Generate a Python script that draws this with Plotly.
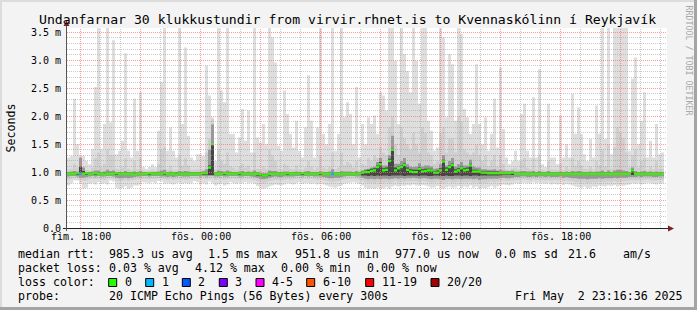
import math
import pandas as pd
import plotly.graph_objects as go

# ---------------- data (milliseconds) ----------------
START = pd.Timestamp("2025-05-01 17:19:30")
STEP = pd.Timedelta(minutes=9)
SPAN = pd.Timedelta(hours=30)
Y_TOP = 3.577

MAX_MS = [
    1.26, 1.29, 2.31, 1.50, 1.29, 1.29, 1.20, 1.14, 1.41, 2.52,
    4.00, 1.41, 1.86, 4.00, 1.89, 3.36, 1.32, 1.38, 1.56, 3.12,
    1.38, 1.26, 2.31, 1.38, 2.43, 1.09, 1.06, 1.09, 1.14, 1.09,
    1.74, 2.61, 4.00, 1.38, 1.80, 1.38, 1.26, 4.00, 1.86, 3.23,
    1.65, 1.26, 1.20, 1.32, 1.32, 1.29, 2.90, 2.37, 1.98, 1.20,
    4.00, 2.46, 2.25, 4.00, 1.68, 1.68, 1.35, 1.62, 2.13, 1.56,
    2.10, 1.35, 4.00, 1.62, 1.53, 1.86, 1.50, 4.00, 3.41, 2.96,
    1.47, 1.38, 2.46, 2.04, 1.68, 1.44, 1.92, 1.38, 1.26, 1.80,
    2.73, 1.92, 1.26, 1.80, 4.00, 1.68, 1.50, 1.86, 4.00, 1.38,
    1.68, 4.00, 1.98, 2.25, 2.04, 1.50, 2.52, 1.26, 1.86, 1.50,
    1.98, 1.86, 2.01, 1.68, 2.43, 2.37, 2.10, 4.00, 4.00, 2.99,
    1.86, 4.00, 3.11, 2.81, 2.43, 4.00, 2.99, 2.22, 4.00, 4.00,
    1.92, 1.74, 1.38, 1.44, 4.00, 3.41, 1.98, 3.11, 2.93, 1.92,
    4.00, 3.47, 2.13, 1.98, 1.68, 1.86, 2.93, 1.86, 1.50, 1.98,
    1.38, 1.68, 2.31, 1.44, 2.87, 1.77, 1.26, 1.14, 1.20, 1.38,
    1.20, 2.04, 2.22, 1.38, 1.26, 2.34, 1.26, 2.84, 1.14, 1.09,
    2.22, 1.26, 1.26, 1.14, 2.01, 1.26, 1.50, 1.26, 2.40, 1.68,
    2.16, 1.68, 1.32, 1.20, 1.59, 1.26, 2.19, 1.68, 4.00, 1.59,
    4.00, 1.32, 4.00, 4.00, 4.00, 4.00, 4.00, 1.38, 2.67, 3.05,
    1.50, 1.92, 2.43, 1.26, 1.56, 1.26, 1.86, 1.32, 1.35,
]
MIN_MS = [
    0.76, 0.80, 0.85, 0.85, 0.80, 0.70, 0.72, 0.79, 0.80, 0.78,
    0.82, 0.79, 0.80, 0.78, 0.85, 0.83, 0.72, 0.70, 0.71, 0.74,
    0.70, 0.72, 0.76, 0.76, 0.78, 0.82, 0.81, 0.80, 0.82, 0.80,
    0.84, 0.83, 0.79, 0.80, 0.79, 0.78, 0.80, 0.81, 0.79, 0.80,
    0.79, 0.80, 0.84, 0.82, 0.78, 0.80, 0.78, 0.83, 0.80, 0.76,
    0.78, 0.80, 0.76, 0.78, 0.82, 0.80, 0.79, 0.81, 0.80, 0.82,
    0.80, 0.81, 0.79, 0.75, 0.72, 0.70, 0.72, 0.74, 0.76, 0.78,
    0.77, 0.76, 0.78, 0.80, 0.79, 0.78, 0.80, 0.82, 0.79, 0.80,
    0.80, 0.79, 0.80, 0.78, 0.80, 0.78, 0.76, 0.74, 0.73, 0.72,
    0.74, 0.76, 0.79, 0.80, 0.81, 0.82, 0.80, 0.79, 0.76, 0.72,
    0.70, 0.71, 0.70, 0.72, 0.70, 0.71, 0.73, 0.70, 0.74, 0.76,
    0.74, 0.76, 0.75, 0.77, 0.76, 0.78, 0.76, 0.75, 0.77, 0.76,
    0.74, 0.72, 0.73, 0.75, 0.72, 0.70, 0.73, 0.74, 0.72, 0.73,
    0.75, 0.72, 0.74, 0.73, 0.76, 0.72, 0.74, 0.70, 0.72, 0.71,
    0.73, 0.75, 0.72, 0.74, 0.76, 0.78, 0.77, 0.76, 0.78, 0.80,
    0.79, 0.80, 0.81, 0.80, 0.79, 0.82, 0.80, 0.81, 0.80, 0.79,
    0.80, 0.78, 0.79, 0.78, 0.80, 0.77, 0.79, 0.78, 0.76, 0.74,
    0.73, 0.72, 0.74, 0.71, 0.72, 0.74, 0.73, 0.76, 0.75, 0.74,
    0.76, 0.75, 0.77, 0.74, 0.76, 0.75, 0.77, 0.78, 0.80, 0.79,
    0.80, 0.78, 0.79, 0.81, 0.80, 0.79, 0.78, 0.80, 0.80,
]
HI2_MS = [
    1.05, 1.06, 1.15, 1.08, 1.28, 1.10, 1.04, 1.03, 1.08, 1.25,
    1.35, 1.08, 1.15, 1.40, 1.30, 1.30, 1.06, 1.05, 1.08, 1.25,
    1.06, 1.04, 1.20, 1.05, 1.25, 1.03, 1.02, 1.03, 1.04, 1.03,
    1.15, 1.40, 1.45, 1.05, 1.12, 1.04, 1.04, 1.30, 1.12, 1.25,
    1.12, 1.04, 1.04, 1.05, 1.05, 1.05, 1.35, 1.60, 1.95, 1.05,
    1.40, 1.20, 1.15, 1.35, 1.10, 1.08, 1.05, 1.10, 1.15, 1.08,
    1.12, 1.04, 1.35, 1.06, 1.05, 1.10, 1.06, 1.40, 1.30, 1.20,
    1.06, 1.05, 1.15, 1.12, 1.06, 1.05, 1.12, 1.05, 1.04, 1.08,
    1.20, 1.10, 1.04, 1.08, 1.30, 1.08, 1.05, 1.10, 1.35, 1.05,
    1.08, 1.35, 1.12, 1.18, 1.15, 1.08, 1.20, 1.04, 1.15, 1.12,
    1.25, 1.20, 1.30, 1.25, 1.45, 1.35, 1.30, 1.80, 2.00, 1.50,
    1.30, 1.80, 1.60, 1.50, 1.40, 1.70, 1.50, 1.35, 1.80, 1.70,
    1.35, 1.30, 1.15, 1.20, 1.70, 1.80, 1.35, 1.60, 1.60, 1.35,
    2.00, 1.90, 1.40, 1.35, 1.30, 1.35, 1.50, 1.30, 1.20, 1.30,
    1.10, 1.20, 1.30, 1.10, 1.30, 1.15, 1.05, 1.04, 1.06, 1.08,
    1.05, 1.20, 1.25, 1.08, 1.05, 1.25, 1.04, 1.30, 1.04, 1.03,
    1.20, 1.05, 1.04, 1.04, 1.15, 1.04, 1.10, 1.05, 1.25, 1.12,
    1.20, 1.12, 1.06, 1.05, 1.10, 1.04, 1.20, 1.12, 1.40, 1.10,
    1.50, 1.06, 1.45, 1.80, 1.70, 1.60, 1.35, 1.08, 1.30, 1.40,
    1.08, 1.20, 1.25, 1.04, 1.10, 1.05, 1.20, 1.06, 1.06,
]
LO2_MS = [
    0.86, 0.88, 0.90, 0.89, 0.86, 0.84, 0.85, 0.87, 0.88, 0.87,
    0.88, 0.87, 0.86, 0.88, 0.89, 0.88, 0.84, 0.83, 0.84, 0.85,
    0.84, 0.85, 0.86, 0.87, 0.87, 0.88, 0.88, 0.87, 0.88, 0.88,
    0.89, 0.88, 0.87, 0.86, 0.87, 0.86, 0.87, 0.88, 0.87, 0.86,
    0.87, 0.88, 0.89, 0.88, 0.87, 0.88, 0.87, 0.88, 0.89, 0.86,
    0.87, 0.88, 0.86, 0.87, 0.88, 0.89, 0.88, 0.88, 0.87, 0.88,
    0.88, 0.87, 0.86, 0.84, 0.82, 0.80, 0.82, 0.84, 0.85, 0.86,
    0.86, 0.85, 0.86, 0.87, 0.86, 0.87, 0.88, 0.88, 0.87, 0.88,
    0.87, 0.88, 0.87, 0.86, 0.87, 0.86, 0.84, 0.83, 0.82, 0.83,
    0.84, 0.86, 0.87, 0.88, 0.88, 0.88, 0.87, 0.86, 0.84, 0.82,
    0.80, 0.81, 0.80, 0.82, 0.80, 0.81, 0.82, 0.80, 0.82, 0.84,
    0.82, 0.83, 0.82, 0.84, 0.83, 0.84, 0.83, 0.82, 0.84, 0.83,
    0.82, 0.81, 0.82, 0.83, 0.81, 0.80, 0.82, 0.83, 0.81, 0.82,
    0.83, 0.81, 0.82, 0.82, 0.83, 0.81, 0.82, 0.80, 0.81, 0.80,
    0.82, 0.83, 0.82, 0.83, 0.84, 0.85, 0.84, 0.84, 0.85, 0.86,
    0.86, 0.87, 0.87, 0.86, 0.85, 0.87, 0.86, 0.87, 0.86, 0.85,
    0.86, 0.85, 0.86, 0.85, 0.86, 0.84, 0.85, 0.84, 0.83, 0.82,
    0.82, 0.81, 0.82, 0.80, 0.81, 0.82, 0.81, 0.83, 0.82, 0.82,
    0.83, 0.82, 0.84, 0.82, 0.83, 0.83, 0.84, 0.85, 0.86, 0.85,
    0.86, 0.85, 0.86, 0.87, 0.86, 0.85, 0.85, 0.86, 0.86,
]
HI3_MS = [
    1.00, 1.01, 1.02, 1.01, 1.25, 1.08, 1.00, 1.00, 1.01, 1.03,
    1.03, 1.00, 1.01, 1.04, 1.02, 1.03, 1.00, 1.00, 1.00, 1.02,
    1.00, 1.00, 1.01, 1.00, 1.02, 1.00, 0.99, 1.00, 1.00, 1.00,
    1.01, 1.03, 1.04, 1.00, 1.01, 1.00, 1.00, 1.02, 1.01, 1.02,
    1.01, 1.00, 1.00, 1.00, 1.00, 1.02, 1.05, 1.40, 1.85, 1.00,
    1.03, 1.02, 1.01, 1.03, 1.01, 1.00, 1.00, 1.01, 1.02, 1.00,
    1.01, 1.00, 1.03, 1.00, 0.99, 0.98, 0.98, 1.03, 1.02, 1.02,
    1.00, 1.00, 1.01, 1.01, 1.00, 1.00, 1.01, 1.00, 1.00, 1.01,
    1.02, 1.00, 1.00, 1.00, 1.02, 1.00, 1.00, 1.01, 1.05, 1.00,
    1.00, 1.02, 1.01, 1.01, 1.01, 1.00, 1.02, 1.00, 1.03, 1.05,
    1.06, 1.08, 1.10, 1.18, 1.25, 1.12, 1.12, 1.30, 1.65, 1.15,
    1.15, 1.20, 1.25, 1.14, 1.10, 1.09, 1.10, 1.16, 1.10, 1.12,
    1.12, 1.10, 1.06, 1.07, 1.14, 1.30, 1.12, 1.20, 1.25, 1.10,
    1.14, 1.18, 1.12, 1.12, 1.22, 1.10, 1.08, 1.08, 1.05, 1.05,
    1.04, 1.04, 1.05, 1.03, 1.04, 1.03, 1.02, 1.02, 1.03, 1.01,
    1.01, 1.02, 1.02, 1.01, 1.01, 1.02, 1.00, 1.02, 1.00, 1.00,
    1.02, 1.00, 1.00, 1.00, 1.01, 1.00, 1.01, 1.00, 1.02, 1.01,
    1.02, 1.01, 1.00, 1.00, 1.01, 1.00, 1.01, 1.01, 1.03, 1.00,
    1.03, 1.00, 1.03, 1.04, 1.04, 1.03, 1.02, 1.00, 1.08, 1.02,
    1.00, 1.01, 1.02, 1.00, 1.01, 1.00, 1.01, 1.00, 1.00,
]
LO3_MS = [
    0.92, 0.93, 0.93, 0.92, 0.90, 0.90, 0.91, 0.92, 0.93, 0.92,
    0.93, 0.92, 0.92, 0.93, 0.93, 0.92, 0.90, 0.89, 0.89, 0.90,
    0.89, 0.90, 0.91, 0.92, 0.92, 0.93, 0.93, 0.92, 0.93, 0.93,
    0.93, 0.92, 0.92, 0.91, 0.92, 0.91, 0.92, 0.93, 0.92, 0.92,
    0.92, 0.93, 0.93, 0.93, 0.92, 0.93, 0.92, 0.93, 0.93, 0.92,
    0.92, 0.93, 0.92, 0.92, 0.93, 0.93, 0.93, 0.92, 0.92, 0.93,
    0.93, 0.92, 0.91, 0.90, 0.88, 0.87, 0.88, 0.90, 0.91, 0.92,
    0.91, 0.91, 0.92, 0.92, 0.92, 0.92, 0.93, 0.93, 0.92, 0.93,
    0.92, 0.93, 0.92, 0.92, 0.92, 0.91, 0.90, 0.89, 0.89, 0.90,
    0.90, 0.91, 0.92, 0.93, 0.93, 0.93, 0.92, 0.92, 0.90, 0.88,
    0.87, 0.88, 0.87, 0.88, 0.87, 0.88, 0.88, 0.87, 0.88, 0.89,
    0.88, 0.89, 0.88, 0.89, 0.89, 0.90, 0.89, 0.88, 0.89, 0.89,
    0.88, 0.87, 0.88, 0.88, 0.87, 0.86, 0.88, 0.88, 0.87, 0.88,
    0.88, 0.87, 0.88, 0.88, 0.88, 0.87, 0.88, 0.86, 0.87, 0.87,
    0.88, 0.88, 0.88, 0.88, 0.89, 0.90, 0.89, 0.89, 0.90, 0.91,
    0.91, 0.92, 0.92, 0.91, 0.91, 0.92, 0.91, 0.92, 0.92, 0.91,
    0.92, 0.91, 0.91, 0.91, 0.92, 0.90, 0.91, 0.90, 0.89, 0.89,
    0.88, 0.88, 0.88, 0.87, 0.88, 0.88, 0.88, 0.89, 0.88, 0.89,
    0.89, 0.89, 0.90, 0.89, 0.90, 0.90, 0.90, 0.91, 0.91, 0.91,
    0.92, 0.91, 0.92, 0.92, 0.92, 0.91, 0.91, 0.92, 0.92,
]
HI4_MS = [
    0.99, 0.99, 0.99, 0.99, 1.10, 1.02, 0.99, 0.99, 0.99, 0.99,
    0.99, 0.99, 0.99, 0.99, 0.99, 0.99, 0.99, 0.99, 0.99, 0.99,
    0.99, 0.99, 0.99, 0.99, 0.99, 0.99, 0.99, 0.99, 0.99, 0.99,
    0.99, 0.99, 0.99, 0.99, 0.99, 0.99, 0.99, 0.99, 0.99, 0.99,
    0.99, 0.99, 0.99, 0.99, 0.99, 0.99, 0.99, 1.12, 1.52, 0.99,
    0.99, 0.99, 0.99, 0.99, 0.99, 0.99, 0.99, 0.99, 0.99, 0.99,
    0.99, 0.99, 0.99, 0.99, 0.98, 0.96, 0.96, 0.99, 0.99, 0.99,
    0.99, 0.99, 0.99, 0.99, 0.99, 0.99, 0.99, 0.99, 0.99, 0.99,
    0.99, 0.99, 0.99, 0.99, 0.99, 0.99, 0.99, 0.99, 0.99, 0.99,
    0.99, 0.99, 0.99, 0.99, 0.99, 0.99, 0.99, 0.99, 1.01, 1.03,
    1.04, 1.06, 1.07, 1.12, 1.18, 1.07, 1.08, 1.24, 1.42, 1.08,
    1.10, 1.12, 1.16, 1.08, 1.05, 1.04, 1.04, 1.09, 1.05, 1.06,
    1.06, 1.06, 1.02, 1.03, 1.07, 1.22, 1.08, 1.12, 1.16, 1.05,
    1.07, 1.10, 1.07, 1.08, 1.15, 1.04, 1.04, 1.03, 1.02, 1.02,
    1.01, 1.01, 1.01, 1.01, 1.00, 1.00, 0.99, 0.99, 0.99, 0.99,
    0.99, 0.99, 0.99, 0.99, 0.99, 0.99, 0.99, 0.99, 0.99, 0.99,
    0.99, 0.99, 0.99, 0.99, 0.99, 0.99, 0.99, 0.99, 0.99, 0.99,
    0.99, 0.99, 0.99, 0.99, 0.99, 0.99, 0.99, 0.99, 0.99, 0.99,
    0.99, 0.99, 0.99, 0.99, 0.99, 0.99, 0.99, 0.99, 1.05, 0.99,
    0.99, 0.99, 0.99, 0.99, 0.99, 0.99, 0.99, 0.99, 0.99,
]
LO4_MS = [
    0.95, 0.95, 0.95, 0.95, 0.95, 0.95, 0.95, 0.95, 0.95, 0.95,
    0.95, 0.95, 0.95, 0.95, 0.95, 0.95, 0.95, 0.95, 0.95, 0.95,
    0.95, 0.95, 0.95, 0.95, 0.95, 0.95, 0.95, 0.95, 0.95, 0.95,
    0.95, 0.95, 0.95, 0.95, 0.95, 0.95, 0.95, 0.95, 0.95, 0.95,
    0.95, 0.95, 0.95, 0.95, 0.95, 0.95, 0.95, 0.95, 0.95, 0.95,
    0.95, 0.95, 0.95, 0.95, 0.95, 0.95, 0.95, 0.95, 0.95, 0.95,
    0.95, 0.95, 0.95, 0.94, 0.93, 0.92, 0.92, 0.94, 0.95, 0.95,
    0.95, 0.95, 0.95, 0.95, 0.95, 0.95, 0.95, 0.95, 0.95, 0.95,
    0.95, 0.95, 0.95, 0.95, 0.95, 0.95, 0.95, 0.95, 0.95, 0.95,
    0.95, 0.95, 0.95, 0.95, 0.95, 0.95, 0.95, 0.95, 0.94, 0.94,
    0.93, 0.94, 0.93, 0.94, 0.93, 0.94, 0.94, 0.93, 0.94, 0.94,
    0.94, 0.94, 0.93, 0.94, 0.94, 0.94, 0.94, 0.93, 0.94, 0.94,
    0.93, 0.93, 0.94, 0.94, 0.93, 0.93, 0.94, 0.93, 0.93, 0.94,
    0.94, 0.93, 0.94, 0.94, 0.93, 0.94, 0.94, 0.93, 0.94, 0.94,
    0.94, 0.94, 0.94, 0.94, 0.94, 0.95, 0.95, 0.95, 0.95, 0.95,
    0.95, 0.95, 0.95, 0.95, 0.95, 0.95, 0.95, 0.95, 0.95, 0.95,
    0.95, 0.95, 0.95, 0.95, 0.95, 0.95, 0.95, 0.95, 0.95, 0.95,
    0.95, 0.95, 0.95, 0.95, 0.95, 0.95, 0.95, 0.95, 0.95, 0.95,
    0.95, 0.95, 0.95, 0.95, 0.95, 0.95, 0.95, 0.95, 0.95, 0.95,
    0.95, 0.95, 0.95, 0.95, 0.95, 0.95, 0.95, 0.95, 0.95,
]
MEDIAN_MS = [
    0.97, 0.97, 0.97, 0.98, 0.97, 0.97, 0.98, 0.97, 0.97, 0.98,
    0.97, 0.97, 0.96, 0.97, 0.97, 0.97, 0.98, 0.97, 0.97, 0.97,
    0.97, 0.97, 0.96, 0.97, 0.97, 0.97, 0.97, 0.98, 0.97, 0.97,
    0.97, 0.97, 0.98, 0.97, 0.97, 0.97, 0.96, 0.97, 0.97, 0.97,
    0.97, 0.97, 0.97, 0.97, 0.97, 0.98, 0.98, 1.08, 1.50, 0.97,
    0.97, 0.97, 0.98, 0.97, 0.97, 0.97, 0.97, 0.98, 0.97, 0.97,
    0.97, 0.97, 0.97, 0.97, 0.96, 0.94, 0.94, 0.97, 0.97, 0.97,
    0.97, 0.97, 0.97, 0.98, 0.97, 0.97, 0.97, 0.97, 0.98, 0.97,
    0.97, 0.97, 0.97, 0.97, 0.98, 0.97, 0.97, 0.97, 0.97, 0.97,
    0.97, 0.97, 0.97, 0.97, 0.97, 0.97, 0.97, 0.97, 0.99, 1.00,
    1.00, 1.02, 1.03, 1.09, 1.14, 1.03, 1.04, 1.20, 1.40, 1.03,
    1.07, 1.09, 1.13, 1.04, 1.01, 1.00, 1.00, 1.06, 1.01, 1.02,
    1.03, 1.03, 0.99, 0.99, 1.03, 1.19, 1.04, 1.09, 1.13, 1.01,
    1.03, 1.07, 1.03, 1.04, 1.12, 1.01, 1.01, 1.01, 0.99, 0.99,
    0.98, 0.98, 0.98, 0.98, 0.98, 0.98, 0.98, 0.98, 0.99, 0.97,
    0.97, 0.97, 0.97, 0.97, 0.97, 0.97, 0.97, 0.97, 0.97, 0.97,
    0.97, 0.97, 0.97, 0.97, 0.97, 0.97, 0.97, 0.97, 0.97, 0.97,
    0.97, 0.97, 0.97, 0.97, 0.97, 0.97, 0.97, 0.97, 0.97, 0.97,
    0.97, 0.97, 0.97, 0.97, 0.97, 0.97, 0.97, 0.97, 1.03, 0.97,
    0.97, 0.97, 0.97, 0.97, 0.97, 0.97, 0.97, 0.97, 0.97,
]
# loss class index per step (0 -> "0", 1 -> "1", ...)
LOSS = [
    0, 0, 0, 0, 1, 0, 0, 0, 0, 0,
    0, 0, 0, 0, 0, 0, 0, 0, 0, 0,
    0, 0, 0, 0, 0, 0, 0, 0, 0, 0,
    0, 0, 0, 0, 0, 0, 0, 0, 0, 0,
    0, 0, 0, 0, 0, 0, 0, 0, 0, 0,
    0, 0, 0, 0, 0, 0, 0, 0, 0, 0,
    0, 0, 0, 0, 0, 0, 0, 0, 0, 0,
    0, 0, 0, 0, 0, 0, 0, 0, 0, 0,
    0, 0, 0, 0, 0, 0, 0, 0, 1, 0,
    0, 0, 0, 0, 0, 0, 0, 0, 0, 0,
    0, 0, 0, 0, 0, 0, 0, 0, 0, 0,
    0, 0, 0, 0, 0, 0, 0, 0, 0, 0,
    0, 0, 0, 0, 0, 0, 0, 0, 0, 0,
    0, 0, 0, 0, 0, 0, 0, 0, 0, 0,
    0, 0, 0, 0, 0, 0, 0, 0, 0, 0,
    0, 0, 0, 0, 0, 0, 0, 0, 0, 0,
    0, 0, 0, 0, 0, 0, 0, 0, 0, 0,
    0, 0, 0, 0, 0, 0, 0, 0, 0, 0,
    0, 0, 0, 0, 0, 0, 0, 0, 0, 0,
    0, 0, 0, 0, 0, 0, 0, 0, 0,
]

LOSS_LABELS = ["0", "1", "2", "3", "4-5", "6-10", "11-19", "20/20"]
LOSS_COLORS = ["#26ff00", "#00b8ff", "#0059ff", "#7e00ff",
               "#ff00ff", "#ff5500", "#ff0000", "#a10000"]

X_TICKS = ["2025-05-01 18:00", "2025-05-02 00:00", "2025-05-02 06:00",
           "2025-05-02 12:00", "2025-05-02 18:00"]
X_TICK_TEXT = ["fim. 18:00", "fös. 00:00", "fös. 06:00", "fös. 12:00", "fös. 18:00"]
Y_TICKS = [0.0, 0.5, 1.0, 1.5, 2.0, 2.5, 3.0, 3.5]
Y_TICK_TEXT = ["0.0", "0.5 m", "1.0 m", "1.5 m", "2.0 m", "2.5 m", "3.0 m", "3.5 m"]

TITLE = "Undanfarnar 30 klukkustundir from virvir.rhnet.is to Kvennaskólinn í Reykjavík"
LEGEND_ROWS = [
    [("median rtt:", 16), ("985.3 us avg", 107), ("1.5 ms max", 206),
     ("951.8 us min", 292.8), ("977.0 us now", 392.8), ("0.0 ms sd", 493.4),
     ("21.6", 566), ("am/s", 621)],
    [("packet loss:", 16), ("0.03 % avg", 107), ("4.12 % max", 193),
     ("0.00 % min", 278.8), ("0.00 % now", 365)],
    [("loss color:", 16)],
    [("probe:", 16), ("20 ICMP Echo Pings (56 Bytes) every 300s", 107),
     ("Fri May  2 23:16:36 2025", 512.8)],
]
LEGEND_Y = [254.3, 268.3, 282.3, 296.3]
SWATCH_X = [108.7, 145.7, 182.3, 219.3, 256.0, 306.7, 365.7, 431.0]

for arr in (MAX_MS, MIN_MS, HI2_MS, LO2_MS, HI3_MS, LO3_MS, HI4_MS, LO4_MS, LOSS):
    assert len(arr) == len(MEDIAN_MS), len(arr)

# ---------------- geometry ----------------
W, H = 697, 310
ML, MR, MT, MB = 67, 30, 28, 82
PW, PH = W - ML - MR, H - MT - MB
BOTTOM = MT + PH
MONO = "DejaVu Sans Mono"


def px(x):
    return (x - ML) / PW


def py(y):
    return (BOTTOM - y) / PH


n = len(MEDIAN_MS)
edges = pd.date_range(START, periods=n + 1, freq=STEP)
centers = edges[:-1] + STEP / 2


def ext(a):
    return list(a) + [a[-1]]


fig = go.Figure()
layers = [
    (MIN_MS, MAX_MS, "#dedede"),
    (LO2_MS, HI2_MS, "#cfcfcf"),
    (LO3_MS, HI3_MS, "#999999"),
    (LO4_MS, HI4_MS, "#464646"),
]
for lo, hi, col in layers:
    fig.add_trace(go.Scatter(x=edges, y=ext(lo), mode="lines",
                             line=dict(width=0, shape="hv"), hoverinfo="skip",
                             showlegend=False))
    fig.add_trace(go.Scatter(x=edges, y=ext(hi), mode="lines",
                             line=dict(width=0, shape="hv"), fill="tonexty",
                             fillcolor=col, hoverinfo="skip", showlegend=False))

# median: short horizontal dash per step, coloured by loss class
step_px = PW * STEP / SPAN
fig.add_trace(go.Scatter(
    x=centers, y=MEDIAN_MS, mode="markers",
    marker=dict(symbol="line-ew", size=step_px / 1.4,
                line=dict(width=2.4, color=[LOSS_COLORS[c] for c in LOSS])),
    hoverinfo="skip", showlegend=False))

shapes = []
# grid (drawn above the smoke like rrdtool)
day0 = pd.Timestamp("2025-05-01")
GRID_MINOR = "rgba(150,150,150,0.5)"
GRID_MAJOR = "rgba(255,110,110,0.7)"
for h in range(18, 48):
    t = day0 + pd.Timedelta(hours=h)
    major = h % 3 == 0
    shapes.append(dict(type="line", xref="x", yref="paper", x0=t, x1=t, y0=0, y1=1,
                       layer="above",
                       line=dict(color=GRID_MAJOR if major else GRID_MINOR,
                                 width=1, dash="1px,1px")))
for i in range(1, 36):
    v = i / 10
    ypix = BOTTOM - v * PH / Y_TOP
    ys = math.floor(ypix) + 0.5
    major = i % 5 == 0
    shapes.append(dict(type="line", xref="paper", yref="paper", x0=0, x1=1,
                       y0=py(ys), y1=py(ys), layer="above",
                       line=dict(color=GRID_MAJOR if major else GRID_MINOR,
                                 width=1, dash="1px,1px")))
# axes with arrows
AX = "#222222"
ARROW = "#7f1f1f"
shapes.append(dict(type="line", xref="paper", yref="paper", x0=px(63), x1=px(669),
                   y0=py(228.5), y1=py(228.5), line=dict(color=AX, width=1), layer="above"))
shapes.append(dict(type="line", xref="paper", yref="paper", x0=px(66.5), x1=px(66.5),
                   y0=py(231), y1=py(24), line=dict(color="#555555", width=1), layer="above"))
shapes.append(dict(type="path", xref="paper", yref="paper", layer="above",
                   path=f"M {px(668)},{py(225.5)} L {px(674)},{py(228.5)} L {px(668)},{py(231.5)} Z",
                   fillcolor=ARROW, line=dict(width=0)))
shapes.append(dict(type="path", xref="paper", yref="paper", layer="above",
                   path=f"M {px(63.5)},{py(26)} L {px(66.5)},{py(20.5)} L {px(69.5)},{py(26)} Z",
                   fillcolor=ARROW, line=dict(width=0)))
# loss colour swatches
for xs, col in zip(SWATCH_X, LOSS_COLORS):
    shapes.append(dict(type="rect", xref="paper", yref="paper",
                       x0=px(xs), x1=px(xs + 8), y0=py(286.5), y1=py(278.5),
                       fillcolor=col, line=dict(color="black", width=1)))
# frame
shapes.append(dict(type="rect", xref="paper", yref="paper", x0=px(0), x1=px(W),
                   y0=py(H - 3), y1=py(H), fillcolor="#a4a4a4", line=dict(width=0)))
shapes.append(dict(type="rect", xref="paper", yref="paper", x0=px(W - 3), x1=px(W),
                   y0=py(0), y1=py(H), fillcolor="#a4a4a4", line=dict(width=0)))
shapes.append(dict(type="rect", xref="paper", yref="paper", x0=px(0), x1=px(W - 3),
                   y0=py(0), y1=py(2), fillcolor="#dcdcdc", line=dict(width=0)))
shapes.append(dict(type="rect", xref="paper", yref="paper", x0=px(0), x1=px(2),
                   y0=py(0), y1=py(H - 3), fillcolor="#dcdcdc", line=dict(width=0)))

NB = "\u00a0"
ann = []
ann.append(dict(text=TITLE, x=px(347.5), y=py(19), xref="paper", yref="paper",
                xanchor="center", yanchor="middle", showarrow=False,
                font=dict(family=MONO, size=13.15, color="black")))
ann.append(dict(text="Seconds", x=px(10.5), y=py(128), xref="paper", yref="paper",
                xanchor="center", yanchor="middle", showarrow=False, textangle=-90,
                font=dict(family=MONO, size=11.6, color="black")))
ann.append(dict(text="RRDTOOL / TOBI OETIKER".replace(" ", NB), x=px(688.0), y=py(60.5),
                xref="paper", yref="paper", xanchor="center", yanchor="middle",
                showarrow=False, textangle=90,
                font=dict(family=MONO, size=8.3, color="#a8a8a8")))
# axis tick labels, placed like rrdtool's
for v, lab in zip(Y_TICKS, Y_TICK_TEXT):
    ann.append(dict(text=lab.replace(" ", NB), x=px(61.8), y=v, xref="paper", yref="y",
                    xanchor="right", yanchor="middle", showarrow=False, borderpad=0,
                    font=dict(family=MONO, size=10, color="black")))
for t, lab in zip(X_TICKS, X_TICK_TEXT):
    ann.append(dict(text=lab.replace(" ", NB), x=t, y=py(236.8), xref="x", yref="paper",
                    xanchor="center", yanchor="middle", showarrow=False, borderpad=0,
                    font=dict(family=MONO, size=10, color="black")))
for row, yc in zip(LEGEND_ROWS, LEGEND_Y):
    for text, xl in row:
        ann.append(dict(text=text.replace(" ", NB), x=px(xl), y=py(yc), xref="paper",
                        yref="paper", xanchor="left", yanchor="middle", showarrow=False,
                        font=dict(family=MONO, size=11.6, color="black")))
for xs, lab in zip(SWATCH_X, LOSS_LABELS):
    ann.append(dict(text=lab, x=px(xs + 13.8), y=py(LEGEND_Y[2]), xref="paper",
                    yref="paper", xanchor="left", yanchor="middle", showarrow=False,
                    font=dict(family=MONO, size=11.6, color="black")))

fig.update_layout(
    width=W, height=H, margin=dict(l=ML, r=MR, t=MT, b=MB, pad=0),
    paper_bgcolor="#f3f3f3", plot_bgcolor="white",
    showlegend=False,
    shapes=shapes, annotations=ann,
    xaxis=dict(type="date", range=[START, START + SPAN], showgrid=False, zeroline=False,
               showline=False, showticklabels=False, ticks="", fixedrange=True),
    yaxis=dict(range=[0, Y_TOP], showgrid=False, zeroline=False, showline=False,
               showticklabels=False, ticks="", fixedrange=True),
)
fig.write_html("out.html")
